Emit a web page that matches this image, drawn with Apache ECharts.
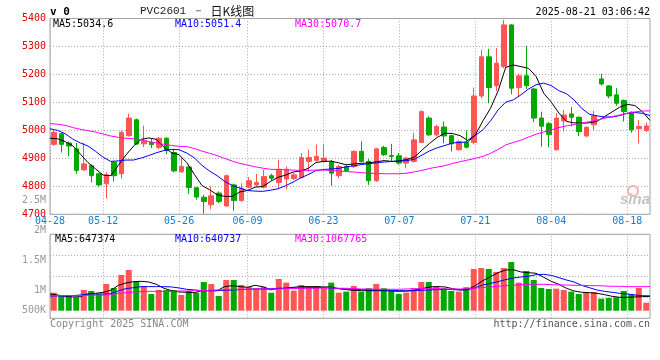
<!DOCTYPE html>
<html><head><meta charset="utf-8">
<script src="https://cdn.jsdelivr.net/npm/echarts@6/dist/echarts.min.js"></script>
<style>html,body{margin:0;padding:0;background:#fff}#c{width:660px;height:360px}</style>
</head><body><div id="c"></div>
<script>
const dates = ['04-28','04-29','04-30','05-06','05-07','05-08','05-09','05-12','05-13','05-14','05-15','05-16','05-19','05-20','05-21','05-22','05-23','05-26','05-27','05-28','05-29','05-30','06-03','06-04','06-05','06-06','06-09','06-10','06-11','06-12','06-13','06-16','06-17','06-18','06-19','06-20','06-23','06-24','06-25','06-26','06-27','06-30','07-01','07-02','07-03','07-04','07-07','07-08','07-09','07-10','07-11','07-14','07-15','07-16','07-17','07-18','07-21','07-22','07-23','07-24','07-25','07-28','07-29','07-30','07-31','08-01','08-04','08-05','08-06','08-07','08-08','08-11','08-12','08-13','08-14','08-15','08-18','08-19','08-20','08-21'];
const labelDates = ['04-28','05-12','05-26','06-09','06-23','07-07','07-21','08-04','08-18'];

const open  = [4950,4988,4955,4934,4859,4874,4845,4809,4886,4845,4981,5038,4952,4957,4939,4972,4921,4852,4869,4795,4761,4734,4776,4730,4805,4749,4797,4805,4797,4838,4814,4826,4828,4832,4889,4893,4889,4887,4838,4871,4871,4925,4889,4820,4939,4910,4909,4883,4889,4957,5044,4984,5012,4981,4931,4957,4957,5123,5263,5160,5228,5377,5153,5195,5148,5044,5024,4931,5034,5059,5047,4980,5020,5184,5159,5127,5107,5065,5006,4999];
const close = [4993,4950,4944,4857,4880,4838,4805,4841,4838,4993,5044,4951,4963,4949,4972,4928,4855,4871,4796,4762,4746,4766,4746,4838,4749,4793,4820,4814,4835,4829,4861,4861,4841,4903,4903,4907,4901,4847,4871,4857,4925,4889,4820,4934,4913,4907,4883,4901,4966,5067,4984,5014,4980,4952,4960,4940,5123,5263,5153,5240,5377,5151,5195,5160,5044,5015,4985,5044,5055,5047,4996,5011,5052,5166,5123,5097,5067,5002,5014,5016];
const low   = [4945,4921,4907,4845,4855,4814,4799,4756,4817,4827,4978,4948,4940,4937,4932,4916,4850,4848,4773,4752,4702,4718,4740,4726,4713,4745,4793,4800,4793,4821,4793,4790,4822,4828,4853,4888,4885,4802,4829,4852,4865,4885,4805,4816,4908,4889,4877,4865,4885,4955,4980,4978,4954,4925,4928,4935,4950,5115,5097,5141,5222,5129,5123,5148,5030,4942,4940,4928,4996,5014,4980,4976,5000,5160,5115,5088,5032,4992,4954,4995];
const high  = [5005,4992,4960,4955,4955,4878,4848,4850,4891,5000,5060,5042,5017,4972,4976,4975,4931,4901,4872,4797,4770,4800,4782,4842,4810,4811,4833,4845,4859,4845,4895,4871,4848,4919,4931,4949,4949,4895,4877,4877,4928,4961,4897,4938,4945,4952,4919,4905,4990,5072,5050,5020,5031,4985,4965,5000,5153,5288,5291,5294,5395,5380,5203,5301,5152,5067,5030,5061,5073,5083,5050,5014,5070,5202,5162,5151,5110,5068,5037,5028];

const ma5  = [4972,4970,4960,4945,4915,4885,4862,4840,4838,4875,4912,4944,4968,4973,4968,4940,4920,4913,4885,4843,4803,4788,4770,4764,4764,4780,4785,4797,4799,4817,4832,4840,4851,4855,4864,4885,4889,4890,4884,4877,4880,4882,4884,4888,4892,4889,4891,4896,4905,4930,4954,4975,4990,4989,4981,4964,4984,5034,5079,5141,5225,5234,5228,5222,5193,5133,5101,5062,5032,5027,5026,5027,5032,5049,5066,5083,5093,5089,5067,5036];
const ma10 = [5006,5000,4988,4969,4955,4944,4925,4904,4889,4891,4894,4894,4901,4910,4920,4928,4932,4931,4919,4902,4875,4855,4838,4818,4803,4794,4785,4783,4782,4786,4791,4802,4815,4830,4842,4856,4860,4862,4864,4870,4873,4878,4881,4884,4887,4889,4890,4892,4897,4912,4927,4938,4946,4955,4957,4959,4982,5002,5034,5073,5101,5109,5127,5148,5163,5169,5160,5142,5131,5109,5079,5058,5052,5048,5048,5053,5061,5064,5061,5053];
const ma30 = [5024,5022,5018,5010,5004,4999,4994,4987,4980,4975,4972,4970,4966,4960,4955,4950,4946,4943,4942,4935,4926,4918,4910,4900,4890,4882,4876,4870,4865,4861,4860,4859,4858,4857,4857,4858,4858,4857,4855,4853,4851,4849,4847,4846,4845,4845,4845,4847,4852,4857,4864,4869,4874,4882,4888,4894,4900,4907,4918,4932,4948,4957,4965,4976,4986,4994,5002,5010,5016,5021,5026,5031,5037,5043,5049,5055,5061,5066,5069,5070];

const vol   = [967000,912000,912000,889000,1012000,995000,945000,1112000,1045000,1262000,1345000,1151000,1078000,945000,1012000,1012000,1012000,928000,995000,967000,1145000,1112000,912000,1178000,1178000,1095000,1067000,1040000,1067000,967000,1195000,1134000,1000000,1095000,1067000,1078000,1056000,1134000,967000,984000,1078000,984000,1040000,1112000,1040000,1000000,945000,967000,1040000,1145000,1145000,1078000,1040000,995000,984000,1056000,1362000,1378000,1362000,1312000,1378000,1478000,1134000,1328000,1178000,1045000,1028000,1034000,1012000,984000,945000,967000,978000,867000,878000,889000,995000,945000,1045000,800000];
const vma5  = [945000,928000,906000,895000,900000,945000,956000,973000,1006000,1089000,1128000,1150000,1156000,1145000,1106000,1040000,1000000,978000,973000,967000,1000000,1000000,1000000,1067000,1084000,1067000,1056000,1089000,1067000,1012000,1040000,1040000,1056000,1067000,1067000,1067000,1062000,1062000,1034000,1017000,1006000,1000000,1000000,1000000,1000000,995000,989000,995000,1006000,1034000,1062000,1067000,1062000,1034000,1012000,1017000,1084000,1167000,1234000,1300000,1345000,1350000,1312000,1300000,1290000,1223000,1156000,1106000,1040000,995000,973000,967000,956000,934000,906000,889000,889000,895000,900000,906000];
const vma10 = [912000,912000,912000,917000,928000,945000,945000,945000,950000,995000,1034000,1050000,1067000,1067000,1067000,1067000,1062000,1045000,1023000,1012000,1000000,1000000,1000000,1006000,1012000,1017000,1023000,1028000,1028000,1034000,1034000,1040000,1045000,1045000,1050000,1050000,1056000,1040000,1034000,1028000,1023000,1017000,1012000,1012000,1012000,1006000,1000000,995000,1000000,1006000,1012000,1017000,1023000,1017000,1012000,1017000,1050000,1095000,1123000,1150000,1184000,1211000,1228000,1239000,1267000,1272000,1256000,1217000,1178000,1145000,1089000,1050000,1012000,989000,973000,956000,945000,928000,917000,912000];
const vma30 = [917000,917000,917000,917000,917000,923000,923000,923000,934000,956000,967000,978000,984000,989000,989000,989000,989000,995000,995000,1000000,1000000,1006000,1012000,1017000,1023000,1023000,1023000,1023000,1028000,1028000,1028000,1034000,1034000,1040000,1040000,1040000,1045000,1045000,1040000,1040000,1034000,1028000,1028000,1023000,1023000,1023000,1023000,1028000,1034000,1034000,1034000,1034000,1028000,1028000,1028000,1034000,1045000,1050000,1062000,1073000,1084000,1089000,1100000,1106000,1106000,1106000,1100000,1095000,1095000,1089000,1089000,1084000,1084000,1078000,1073000,1073000,1067000,1067000,1067000,1067000];

const priceMin = 4700, priceMax = 5400, priceStep = 100;
const volLabelMin = 500000, volLabelMax = 2500000, volLabelStep = 500000;
const volMin = 666000, volMax = 1940000;
const frameMin = 0, frameMax = 4;

const titleCode = 'PVC2601 －';
const titleName = '日K线图';
const timeText = '2025-08-21 03:06:42';
const priceMaText = ['MA5:5034.6', 'MA10:5051.4', 'MA30:5070.7'];
const volMaText = ['MA5:647374', 'MA10:640737', 'MA30:1067765'];

const UP = '#ff5555', DOWN = '#00a800';
const MONO = '"DejaVu Sans Mono","Liberation Mono",monospace';
const GRIDC = '#a8a8a8';
const dotted = {color: GRIDC, width: 1, type: [1, 2]};
const showDate = (i, v) => labelDates.indexOf(v) >= 0;

// vertical dotted grid line at each labelled date, placed by the category axis
const vLine = (lo, hi) => (params, api) => {
  const a = api.coord([api.value(0), lo]);
  const b = api.coord([api.value(0), hi]);
  const x = Math.floor(a[0]) + 0.5;
  return {type: 'line', silent: true,
    shape: {x1: x, y1: a[1], x2: x, y2: b[1]},
    style: {stroke: GRIDC, lineWidth: 1, lineDash: [1, 2]}};
};

const chart = echarts.init(document.getElementById('c'));
const txt = (x, y, text, fill, font, align) => ({
  type: 'text', x: x, y: y, silent: true, z: 100,
  style: {text: text, fill: fill, font: font, align: align || 'left', verticalAlign: 'middle'}
});

chart.setOption({
  animation: false,
  backgroundColor: '#fff',
  grid: [
    {left: 50, right: 10, top: 18.5, height: 195.8, show: true, borderColor: '#a0a0a0', borderWidth: 1},
    {left: 50, right: 10, top: 234.3, height: 76.4},
    {left: 50, right: 10, top: 234.3, height: 84, show: true, borderColor: '#a0a0a0', borderWidth: 1},
    {left: 50, right: 10, top: 200.7, height: 120}
  ],
  xAxis: [
    {type: 'category', gridIndex: 0, position: 'bottom', data: dates, boundaryGap: true, show: false},
    {type: 'category', gridIndex: 0, position: 'bottom', data: dates, boundaryGap: false,
     axisLine: {show: false}, axisTick: {show: false},
     axisLabel: {interval: showDate, color: '#0a7fd6', fontFamily: MONO, fontSize: 10, margin: 2},
     splitLine: {show: false}},
    {type: 'category', gridIndex: 1, position: 'bottom', data: dates, boundaryGap: true, show: false},
    {type: 'category', gridIndex: 1, position: 'bottom', data: dates, boundaryGap: false, show: false},
    {type: 'category', gridIndex: 2, position: 'bottom', data: dates, boundaryGap: false, show: false},
    {type: 'category', gridIndex: 3, position: 'bottom', data: dates, show: false}
  ],
  yAxis: [
    {type: 'value', gridIndex: 0, min: priceMin, max: priceMax, interval: priceStep,
     axisLine: {show: false}, axisTick: {show: false},
     axisLabel: {color: '#e00000', fontFamily: MONO, fontSize: 10, margin: 4, padding: [0, 0, 4, 0],
       formatter: v => String(v)},
     splitLine: {show: true, lineStyle: dotted}},
    {type: 'value', gridIndex: 1, min: volMin, max: volMax, show: false, splitLine: {show: false}},
    {type: 'value', gridIndex: 2, min: frameMin, max: frameMax, interval: 1,
     axisLine: {show: false}, axisTick: {show: false}, axisLabel: {show: false},
     splitLine: {show: true, lineStyle: dotted}},
    {type: 'value', gridIndex: 3, min: volLabelMin, max: volLabelMax, interval: volLabelStep,
     axisLine: {show: false}, axisTick: {show: false}, splitLine: {show: false},
     axisLabel: {color: '#999', fontFamily: MONO, fontSize: 10, margin: 4,
       formatter: v => v < 1000000 ? '{k|' + (v / 1000) + 'K}' : (v / 1000000) + 'M',
       rich: {k: {color: '#999', fontFamily: MONO, fontSize: 10, padding: [0, 0, 20, 0]}}}}
  ],
  series: [
    {type: 'custom', xAxisIndex: 1, yAxisIndex: 0, z: 1, silent: true,
     data: labelDates.map(d => [d]), encode: {x: 0}, renderItem: vLine(priceMin, priceMax)},
    {type: 'custom', xAxisIndex: 4, yAxisIndex: 2, z: 1, silent: true,
     data: labelDates.map(d => [d]), encode: {x: 0}, renderItem: vLine(frameMin, frameMax)},
    {type: 'candlestick', xAxisIndex: 0, yAxisIndex: 0, barWidth: 5, z: 3,
     data: dates.map((d, i) => [open[i], close[i], low[i], high[i]]),
     itemStyle: {color: UP, color0: DOWN, borderColor: UP, borderColor0: DOWN, borderWidth: 1}},
    {type: 'line', xAxisIndex: 1, yAxisIndex: 0, data: ma5, symbol: 'none', z: 4, lineStyle: {color: '#000', width: 1}},
    {type: 'line', xAxisIndex: 1, yAxisIndex: 0, data: ma10, symbol: 'none', z: 4, lineStyle: {color: '#0000ff', width: 1}},
    {type: 'line', xAxisIndex: 1, yAxisIndex: 0, data: ma30, symbol: 'none', z: 4, lineStyle: {color: '#ff00ff', width: 1}},
    {type: 'bar', xAxisIndex: 2, yAxisIndex: 1, barWidth: 6, z: 3,
     data: vol.map((v, i) => ({value: v, itemStyle: {color: close[i] >= open[i] ? UP : DOWN}}))},
    {type: 'line', xAxisIndex: 3, yAxisIndex: 1, data: vma5, symbol: 'none', z: 4, lineStyle: {color: '#000', width: 1}},
    {type: 'line', xAxisIndex: 3, yAxisIndex: 1, data: vma10, symbol: 'none', z: 4, lineStyle: {color: '#0000ff', width: 1}},
    {type: 'line', xAxisIndex: 3, yAxisIndex: 1, data: vma30, symbol: 'none', z: 4, lineStyle: {color: '#ff00ff', width: 1}}
  ],
  graphic: [
    txt(50, 12, 'v 0', '#000', 'bold 11px ' + MONO),
    {type: 'text', x: 140, y: 11, silent: true, z: 100,
     style: {text: '{a|' + titleCode + '}  {b|' + titleName + '}', verticalAlign: 'middle',
       rich: {a: {fill: '#222', font: '11px "Liberation Mono",monospace'},
              b: {fill: '#111', font: '12px "Noto Sans CJK SC",sans-serif'}}}},
    txt(650, 12, timeText, '#000', '10px ' + MONO, 'right'),
    txt(53, 24, priceMaText[0], '#000', '10px ' + MONO),
    txt(175, 24, priceMaText[1], '#0000ff', '10px ' + MONO),
    txt(295, 24, priceMaText[2], '#ff00ff', '10px ' + MONO),
    txt(55, 239, volMaText[0], '#000', '10px ' + MONO),
    txt(175, 239, volMaText[1], '#0000ff', '10px ' + MONO),
    txt(295, 239, volMaText[2], '#ff00ff', '10px ' + MONO),
    txt(50, 324, 'Copyright 2025 SINA.COM', '#888', '10px ' + MONO),
    txt(650, 324, 'http://finance.sina.com.cn', '#555', '10px ' + MONO, 'right'),
    {type: 'circle', shape: {cx: 633, cy: 191, r: 5}, silent: true, z: 1,
     style: {fill: 'none', stroke: '#f2b0b0', lineWidth: 2}},
    txt(620, 200, 'sina', '#c4c4c4', 'italic bold 15px "Liberation Sans",sans-serif')
  ]
});
</script></body></html>
